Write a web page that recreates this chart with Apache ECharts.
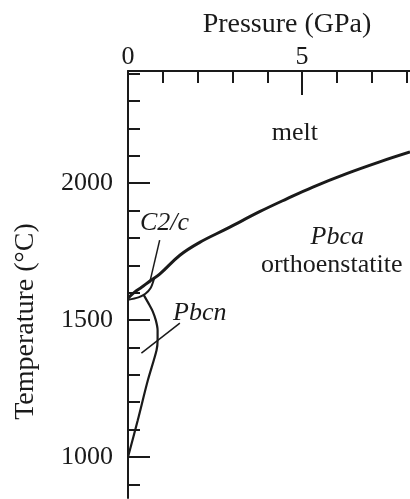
<!DOCTYPE html>
<html>
<head>
<meta charset="utf-8">
<script src="https://cdn.jsdelivr.net/npm/echarts@6/dist/echarts.min.js"></script>
<style>
  html, body { margin: 0; padding: 0; background: #fff; }
  #chart { width: 410px; height: 499px; }
</style>
</head>
<body>
<div id="chart"></div>
<script>
// pressure (GPa), temperature (°C) pairs
const meltCurve = [
  [0, 1580], [0.19, 1602], [0.39, 1620], [0.62, 1642], [0.91, 1668],
  [1.49, 1737], [2.06, 1784], [2.84, 1834], [3.78, 1896], [4.56, 1943],
  [5.31, 1986], [6.28, 2035], [7.23, 2078], [8.1, 2114]
];
const c2cLens = [
  [0, 1574], [0.3, 1583], [0.5, 1596], [0.65, 1617], [0.75, 1652]
];
const pbcnBoundary = [
  [0.45, 1592], [0.62, 1554], [0.71, 1532], [0.8, 1499], [0.85, 1463],
  [0.85, 1426], [0.82, 1390], [0.57, 1280], [0.28, 1134], [0, 1000]
];
const c2cLeader = [[0.91, 1792], [0.62, 1635]];
const pbcnLeader = [[0.385, 1379], [1.49, 1489]];

// tick labels
const xMajorTicks = [0, 5];
const xMinorTicks = [1, 2, 3, 4, 6, 7, 8];
const yMajorTicks = [1000, 1500, 2000];
const yMinorTicks = [900, 1100, 1200, 1300, 1400, 1600, 1700, 1800, 1900, 2100, 2200, 2300, 2400];

// region labels: [P, T, text]
const regionLabels = [
  [4.79, 2183, "melt"],
  [1.05, 1854, "C2/c"],
  [2.06, 1525, "Pbcn"],
  [6.01, 1803, "Pbca"],
  [5.85, 1700, "orthoenstatite"]
];
const italicLabels = ["C2/c", "Pbcn", "Pbca"];

const font = "'Liberation Serif', 'Times New Roman', serif";
const ink = "#1a1a1a";

const chart = echarts.init(document.getElementById("chart"));

const majorX = {
  type: "value", position: "top", min: 0, max: 8.1,
  axisLine: { lineStyle: { color: ink, width: 2 } },
  axisTick: { inside: true, length: 24, lineStyle: { color: ink, width: 2 }, customValues: xMajorTicks },
  axisLabel: { customValues: xMajorTicks, color: ink, fontFamily: font, fontSize: 26, margin: 1 },
  splitLine: { show: false },
  name: "Pressure (GPa)", nameLocation: "middle", nameGap: 30,
  nameTextStyle: { color: ink, fontFamily: font, fontSize: 28, padding: [0, 0, 0, 36] }
};
const minorX = {
  type: "value", position: "top", min: 0, max: 8.1,
  axisLine: { show: false },
  axisTick: { inside: true, length: 12, lineStyle: { color: ink, width: 2 }, customValues: xMinorTicks },
  axisLabel: { show: false },
  splitLine: { show: false }
};
const majorY = {
  type: "value", position: "left", min: 850, max: 2410,
  axisLine: { show: true, lineStyle: { color: ink, width: 2 } },
  axisTick: { show: true, inside: true, length: 22, lineStyle: { color: ink, width: 2 }, customValues: yMajorTicks },
  axisLabel: {
    customValues: yMajorTicks, formatter: v => String(v),
    color: ink, fontFamily: font, fontSize: 26, margin: 15
  },
  splitLine: { show: false },
  name: "Temperature (°C)", nameLocation: "middle", nameGap: 88, nameRotate: 90,
  nameTextStyle: { color: ink, fontFamily: font, fontSize: 28, padding: [0, 74, 0, 0] }
};
const minorY = {
  type: "value", position: "left", min: 850, max: 2410,
  axisLine: { show: false },
  axisTick: { show: true, inside: true, length: 12, lineStyle: { color: ink, width: 2 }, customValues: yMinorTicks },
  axisLabel: { show: false },
  splitLine: { show: false }
};

const curve = (data, width, smooth) => ({
  type: "line", data: data, showSymbol: false, smooth: smooth,
  lineStyle: { color: ink, width: width }, silent: true, animation: false
});

const options = {
  backgroundColor: "#fff",
  animation: false,
  grid: { left: 128, right: 0, top: 71, bottom: 1 },
  xAxis: [majorX, minorX],
  yAxis: [majorY, minorY],
  series: [
    curve(meltCurve, 3, 0.4),
    curve(c2cLens, 2, 0.3),
    curve(pbcnBoundary, 2.2, 0.3),
    curve(c2cLeader, 1.5, false),
    curve(pbcnLeader, 1.5, false),
    {
      type: "scatter", symbolSize: 0, silent: true,
      itemStyle: { opacity: 1 },
      data: regionLabels.map(d => ({
        value: [d[0], d[1]], name: d[2],
        label: { fontStyle: italicLabels.includes(d[2]) ? "italic" : "normal" }
      })),
      label: {
        show: true, position: "inside", formatter: p => p.name,
        color: ink, fontFamily: font, fontSize: 26
      }
    }
  ]
};

chart.setOption(options);
</script>
</body>
</html>
